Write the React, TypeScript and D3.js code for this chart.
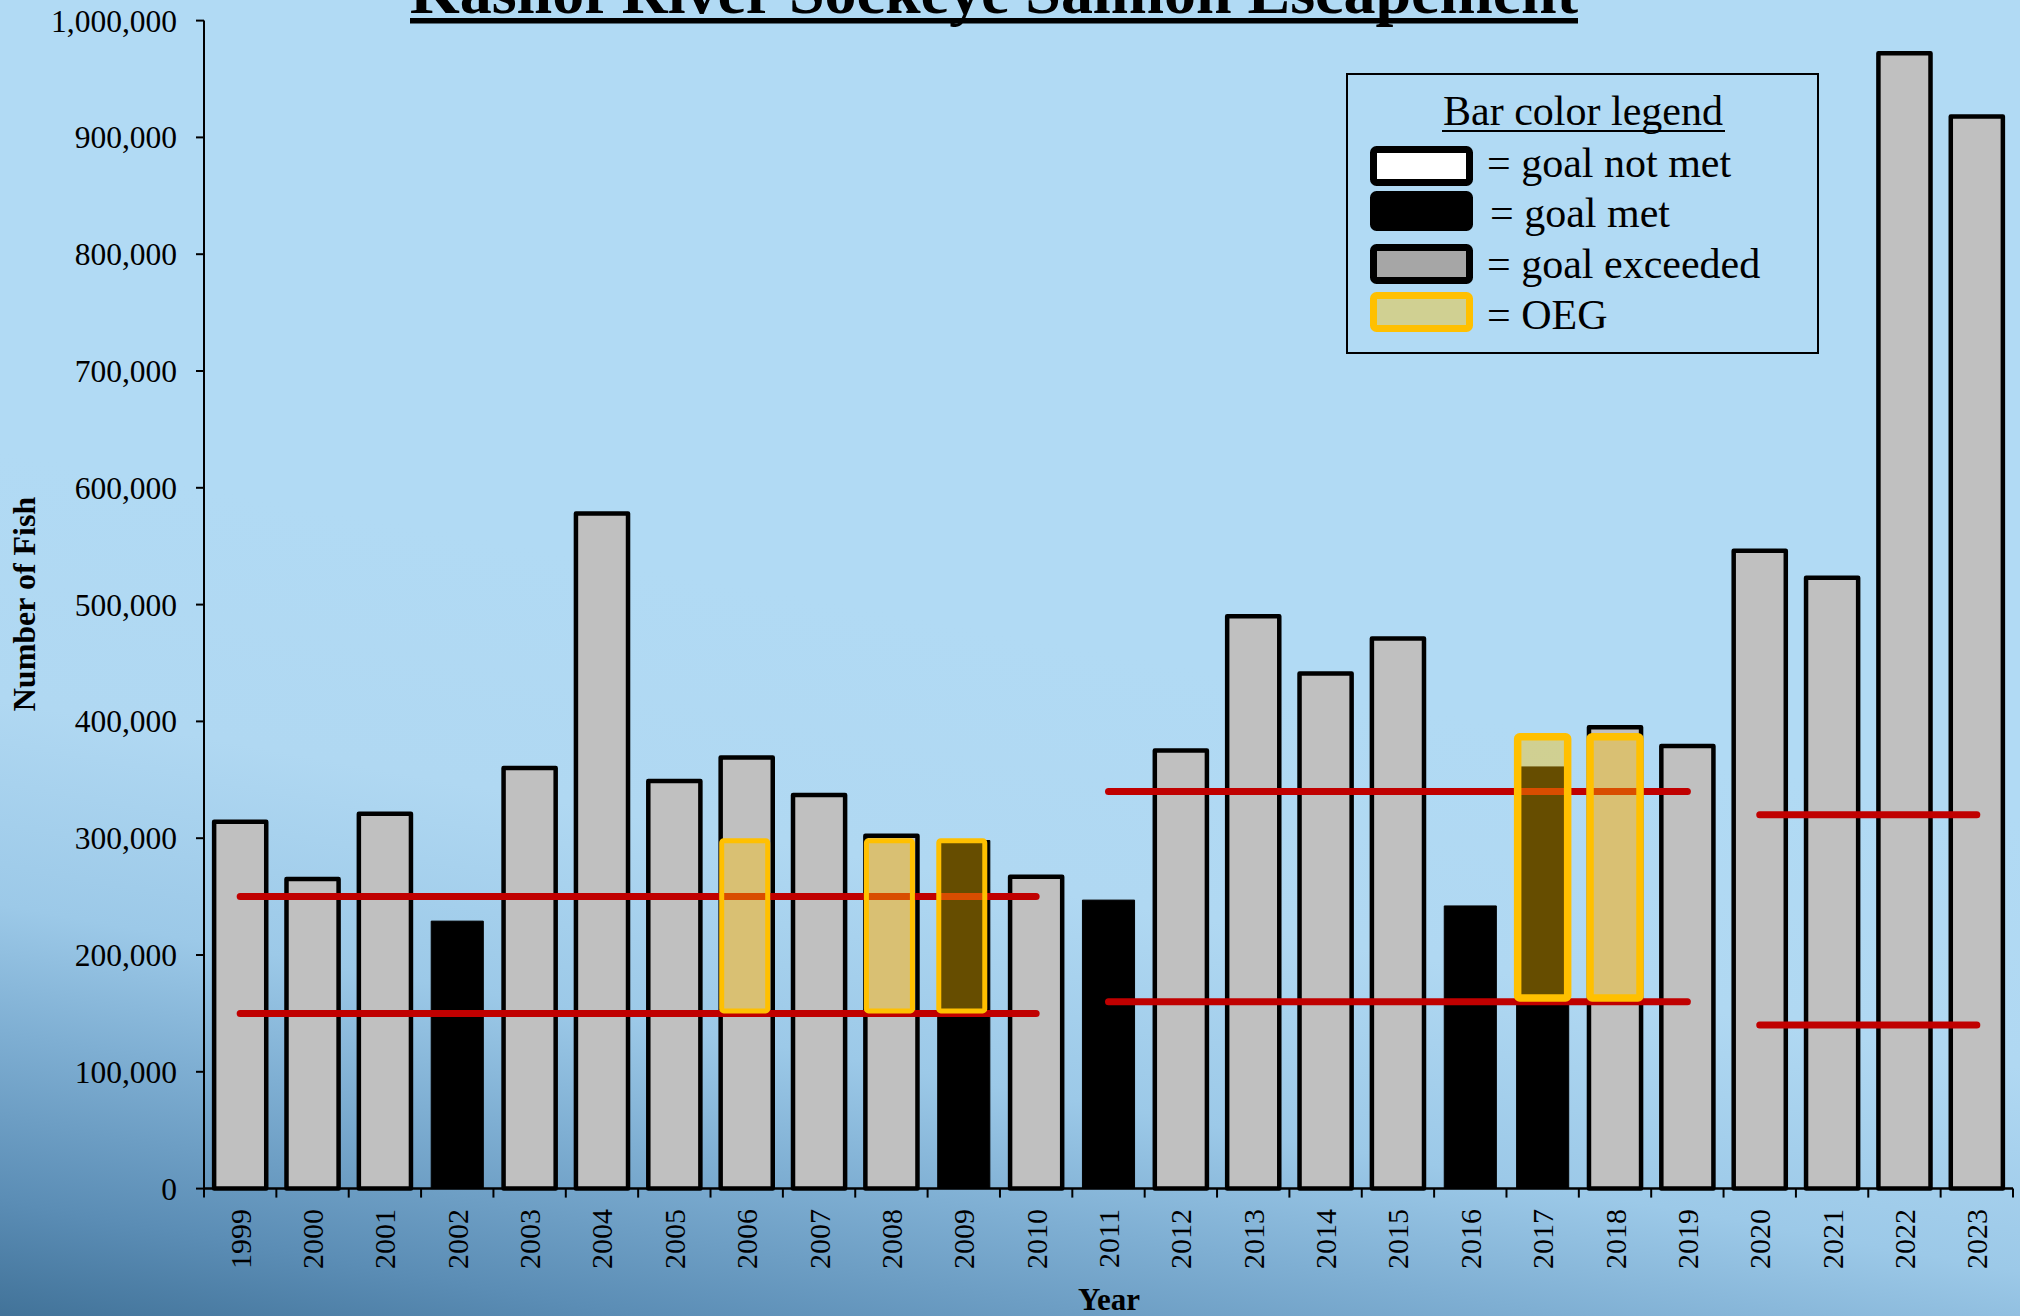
import React from "react";
import * as d3 from "d3";

const years = ["1999","2000","2001","2002","2003","2004","2005","2006","2007","2008","2009","2010","2011","2012","2013","2014","2015","2016","2017","2018","2019","2020","2021","2022","2023"];
const escapement = [314000,265000,321000,229000,360000,578000,349000,369000,337000,302000,298000,267000,247000,375000,490000,441000,471000,242000,361000,395000,379000,546000,523000,972000,918000];
const status = ["exceeded","exceeded","exceeded","met","exceeded","exceeded","exceeded","exceeded","exceeded","exceeded","met","exceeded","met","exceeded","exceeded","exceeded","exceeded","met","met","exceeded","exceeded","exceeded","exceeded","exceeded","exceeded"];

const goalStart = ["1999","2011","2020"];
const goalEnd = ["2010","2019","2023"];
const goalLow = [150000,160000,140000];
const goalHigh = [250000,340000,320000];

const oegYears = ["2006","2008","2009","2017","2018"];
const oegLow = [150000,150000,150000,160000,160000];
const oegHigh = [300000,300000,300000,390000,390000];

const yTicks = [0,100000,200000,300000,400000,500000,600000,700000,800000,900000,1000000];

const legendLabels = ["= goal not met","= goal met","= goal exceeded","= OEG"];

const W = 2020, H = 1316;
const FONT = "'Liberation Serif', 'Times New Roman', serif";

export default function App() {
  const x = d3.scaleBand().domain(years).range([204, 2013]).paddingInner(0.28).paddingOuter(0.14);
  const y = d3.scaleLinear().domain([0, 1000000]).range([1188.6, 20.6]);
  const step = x.step();
  const fmt = d3.format(",");
  const cx = (yr: string) => (x(yr) as number) + x.bandwidth() / 2;

  const legendFills = ["#ffffff", "#000000", "#a6a6a6", "#ffc000"];
  const legendStrokes = ["#000000", "#000000", "#000000", "#ffc000"];
  const legendRowY = [149.5, 194.5, 247.5, 295.5];
  const legendTextY = [177, 227, 278, 329];
  const legendTextX = [1487, 1490, 1487, 1487];

  return (
    <svg width={W} height={H} style={{ position: "absolute", left: 0, top: 0 }} fontFamily={FONT}>
      <defs>
        <linearGradient id="bg" gradientUnits="userSpaceOnUse" x1={1100} y1={650} x2={900} y2={1750}>
          <stop offset="0" stopColor="#b1daf4" />
          <stop offset="0.22" stopColor="#b0d8f2" />
          <stop offset="0.40" stopColor="#9cc9e8" />
          <stop offset="0.51" stopColor="#7fafd3" />
          <stop offset="0.66" stopColor="#5b8db5" />
          <stop offset="0.78" stopColor="#3d6e94" />
          <stop offset="1" stopColor="#2a5a80" />
        </linearGradient>
      </defs>
      <rect x={0} y={0} width={W} height={H} fill="url(#bg)" />

      {/* Title */}
      <text x={410} y={13} fontSize={64} fontWeight="bold" textLength={1168} lengthAdjust="spacingAndGlyphs">
        Kasilof River Sockeye Salmon Escapement
      </text>
      <rect x={410} y={18} width={1168} height={5.5} fill="#000" />

      {/* Bars */}
      {years.map((yr, i) => (
        <rect
          key={yr}
          x={x(yr)}
          y={y(escapement[i])}
          width={x.bandwidth()}
          height={y(0) - y(escapement[i])}
          fill={status[i] === "met" ? "#000000" : "#c0c0c0"}
          stroke="#000"
          strokeWidth={status[i] === "met" ? 1 : 4.5}
          strokeLinejoin="round"
        />
      ))}

      {/* Goal lines */}
      {goalStart.map((s, i) => (
        <g key={s}>
          <line x1={cx(s)} x2={cx(goalEnd[i])} y1={y(goalLow[i])} y2={y(goalLow[i])} stroke="#c00000" strokeWidth={7} strokeLinecap="round" />
          <line x1={cx(s)} x2={cx(goalEnd[i])} y1={y(goalHigh[i])} y2={y(goalHigh[i])} stroke="#c00000" strokeWidth={7} strokeLinecap="round" />
        </g>
      ))}

      {/* OEG boxes */}
      {oegYears.map((yr, i) => {
        const sw = i < 3 ? 5 : 7.5;
        const w = i < 3 ? 46 : 50;
        return (
          <rect
            key={yr}
            x={cx(yr) - w / 2 - (i < 3 ? 2 : 0)}
            y={y(oegHigh[i]) + sw / 2}
            width={w}
            height={y(oegLow[i]) - y(oegHigh[i]) - sw}
            fill="#ffc000"
            fillOpacity={0.4}
            stroke="#ffc000"
            strokeWidth={sw}
            rx={2}
          />
        );
      })}

      {/* Y axis */}
      <line x1={204} x2={204} y1={y(1000000)} y2={y(0)} stroke="#000" strokeWidth={2} />
      {yTicks.map((t) => (
        <g key={t}>
          <line x1={196} x2={204} y1={y(t)} y2={y(t)} stroke="#000" strokeWidth={2} />
          <text x={177} y={y(t)} dy="0.35em" textAnchor="end" fontSize={31.5}>
            {fmt(t)}
          </text>
        </g>
      ))}

      {/* X axis */}
      <line x1={204} x2={2013} y1={y(0)} y2={y(0)} stroke="#000" strokeWidth={2.5} />
      {years.map((yr, i) => (
        <line key={"t" + yr} x1={204 + i * step} x2={204 + i * step} y1={y(0)} y2={y(0) + 9} stroke="#000" strokeWidth={2} />
      ))}
      <line x1={2013} x2={2013} y1={y(0)} y2={y(0) + 9} stroke="#000" strokeWidth={2} />
      {years.map((yr) => (
        <text
          key={"l" + yr}
          transform={`translate(${cx(yr)},1209) rotate(-90)`}
          dy="0.35em"
          textAnchor="end"
          fontSize={30}
        >
          {yr}
        </text>
      ))}

      {/* Axis titles */}
      <text transform="translate(35,604) rotate(-90)" textAnchor="middle" fontSize={32} fontWeight="bold">
        Number of Fish
      </text>
      <text x={1109} y={1310} textAnchor="middle" fontSize={31} fontWeight="bold">
        Year
      </text>

      {/* Legend */}
      <rect x={1347} y={74} width={471} height={279} fill="none" stroke="#000" strokeWidth={2} />
      <text x={1583} y={125} textAnchor="middle" fontSize={42}>
        Bar color legend
      </text>
      <rect x={1442} y={130} width={283} height={2} fill="#000" />
      {legendLabels.map((lab, i) => (
        <g key={lab}>
          <rect
            x={1373.5}
            y={legendRowY[i]}
            width={96}
            height={33}
            fill={legendFills[i]}
            fillOpacity={i === 3 ? 0.4 : 1}
            stroke={legendStrokes[i]}
            strokeWidth={7}
            rx={3}
          />
          <text x={legendTextX[i]} y={legendTextY[i]} fontSize={42}>
            {lab}
          </text>
        </g>
      ))}
    </svg>
  );
}
